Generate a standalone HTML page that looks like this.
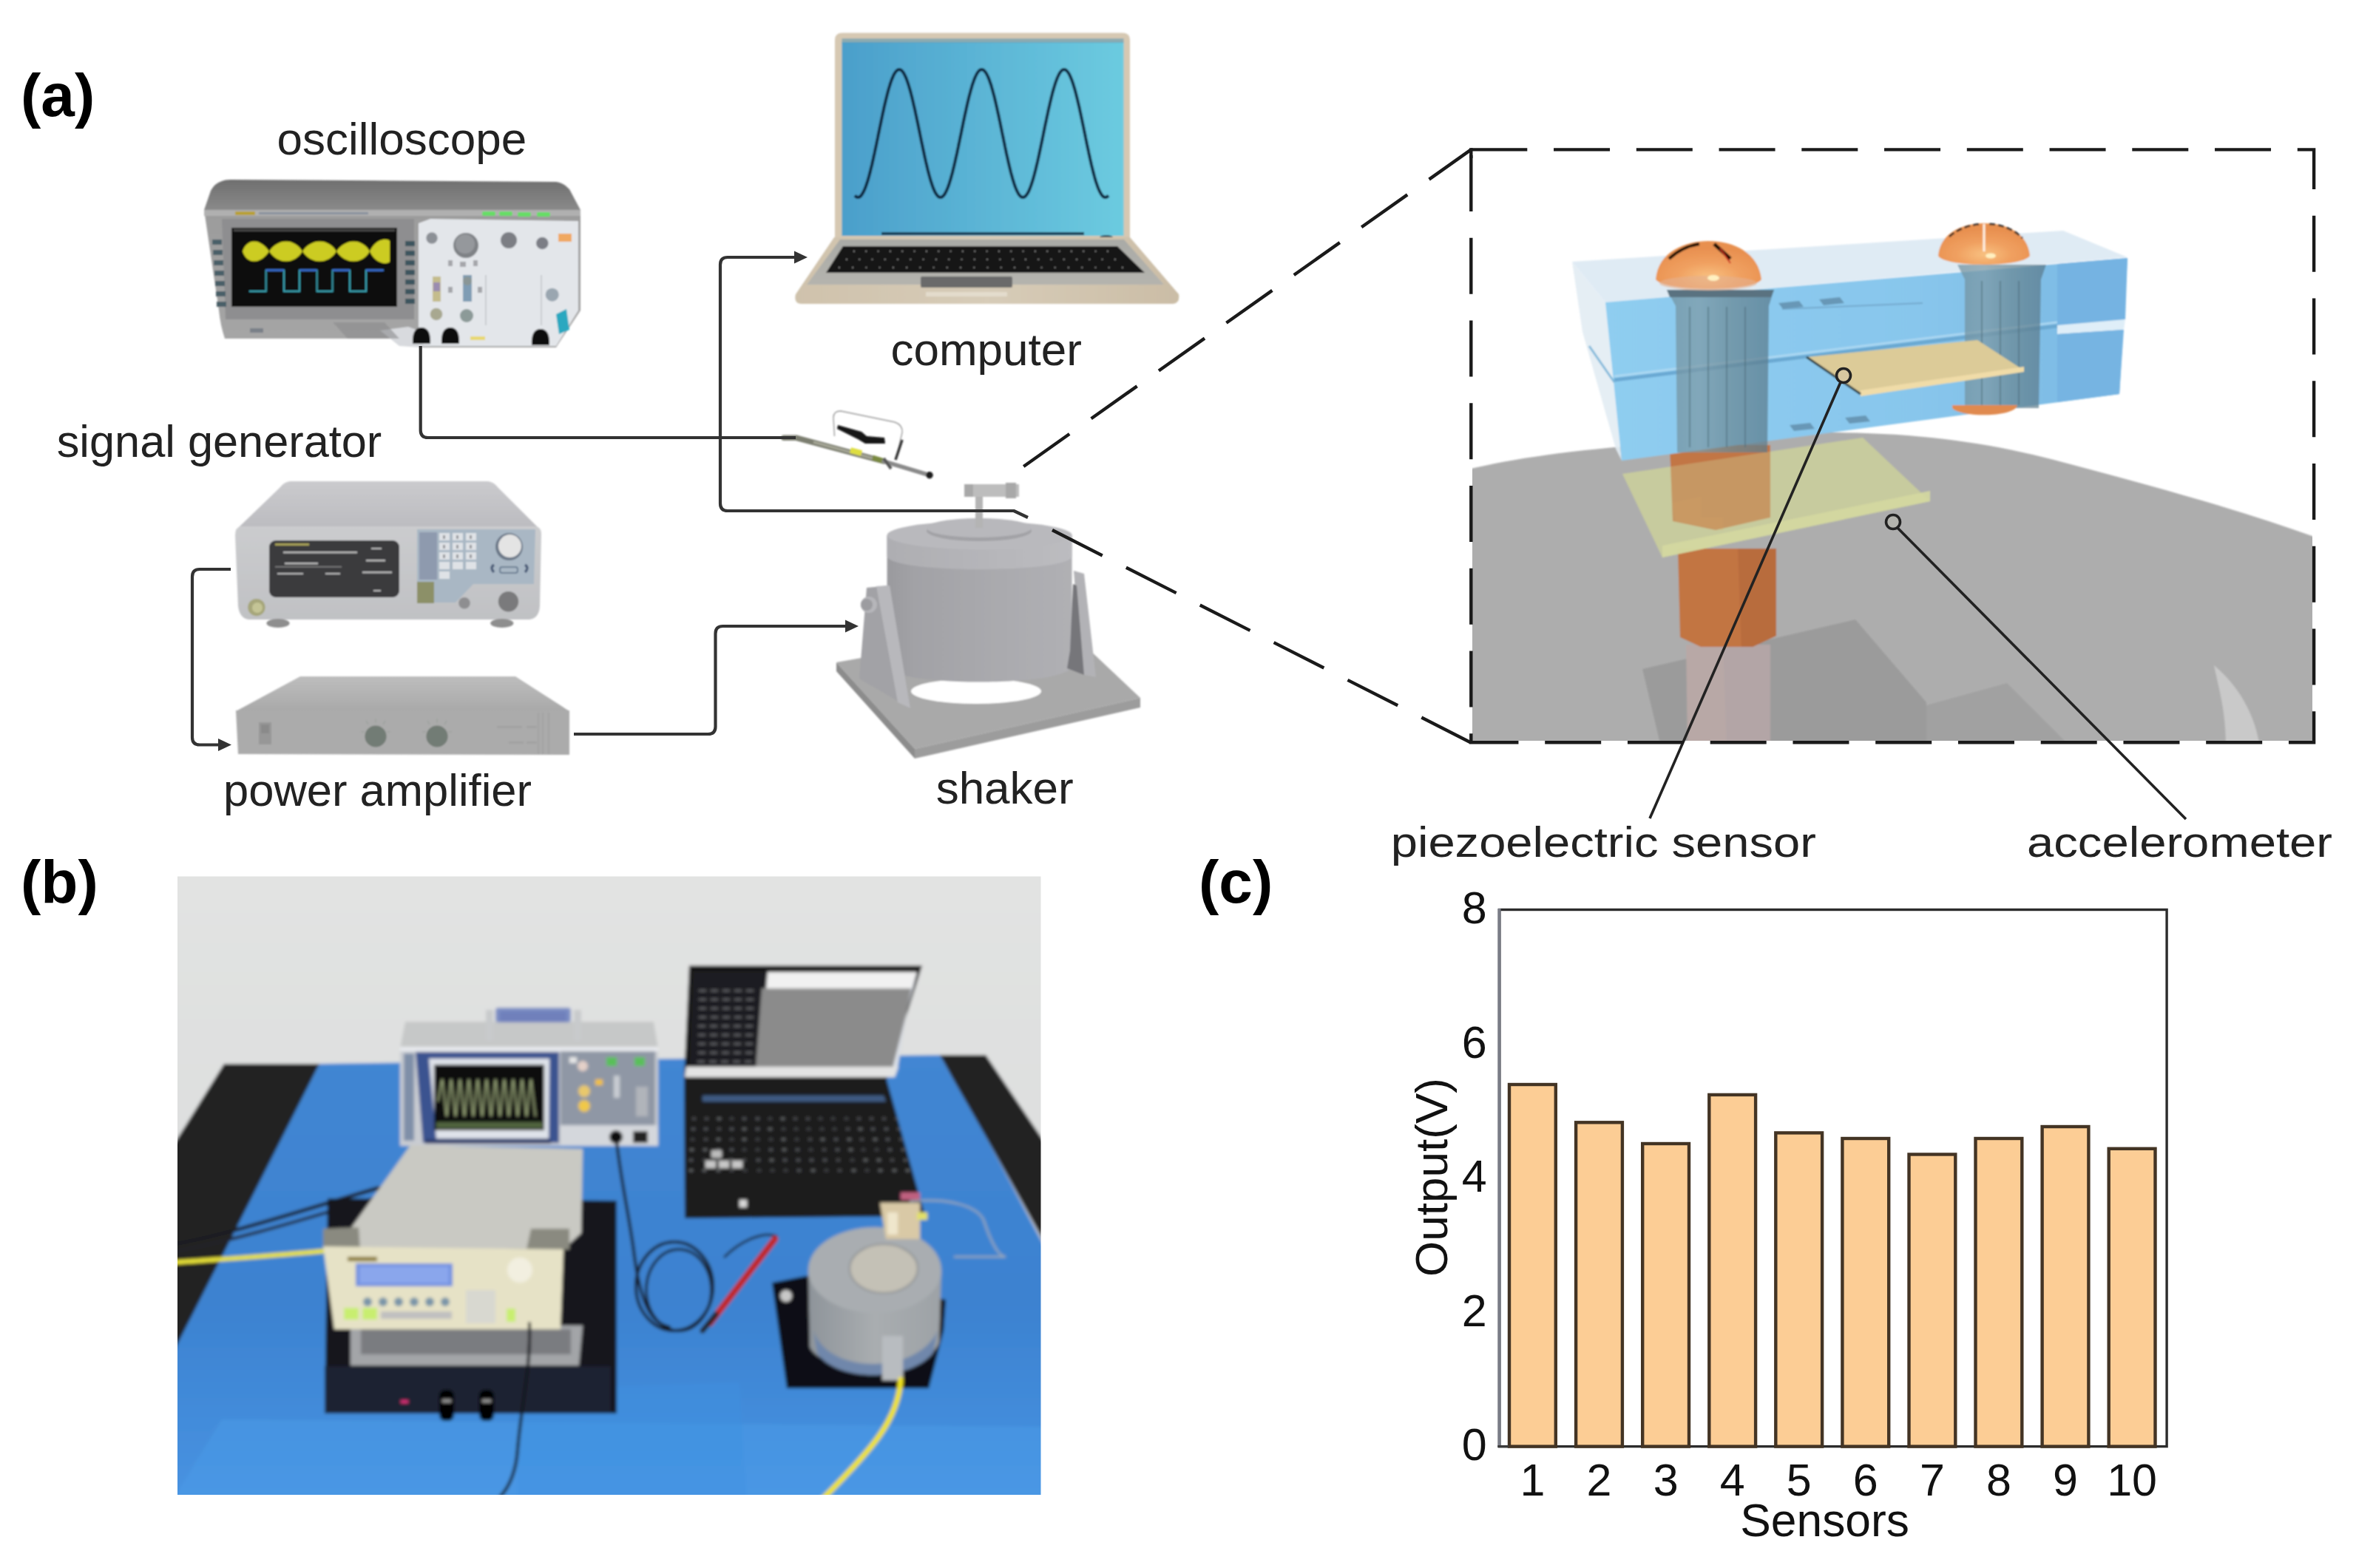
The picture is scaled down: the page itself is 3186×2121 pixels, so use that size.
<!DOCTYPE html>
<html><head><meta charset="utf-8"><title>Experimental setup figure</title>
<style>
html,body{margin:0;padding:0;background:#fff;}
body{width:3186px;height:2121px;overflow:hidden;}
svg{display:block;}
text{font-family:"Liberation Sans",sans-serif;}
</style></head><body>
<svg width="3186" height="2121" viewBox="0 0 3186 2121">
<rect width="3186" height="2121" fill="#fff"/>
<!-- defs -->
<defs>
  <marker id="arr" viewBox="0 0 10 10" refX="9" refY="5" markerWidth="5" markerHeight="5" orient="auto" markerUnits="strokeWidth">
    <path d="M0,0 L10,5 L0,10 z" fill="#333"/>
  </marker>
  <linearGradient id="lapScreen" x1="0" y1="0" x2="1" y2="0">
    <stop offset="0" stop-color="#4b9fcb"/>
    <stop offset="1" stop-color="#6ccbe0"/>
  </linearGradient>
  <filter id="blur1" x="-5%" y="-5%" width="110%" height="110%"><feGaussianBlur stdDeviation="1"/></filter>
  <filter id="blur2" x="-5%" y="-5%" width="110%" height="110%"><feGaussianBlur stdDeviation="2"/></filter>
  <filter id="blur4" x="-10%" y="-10%" width="120%" height="120%"><feGaussianBlur stdDeviation="4"/></filter>
</defs>

<!-- a_labels -->
<g fill="#000" font-weight="bold" font-size="82">
  <text x="28" y="157">(a)</text>
  <text x="28" y="1221">(b)</text>
  <text x="1621" y="1221">(c)</text>
</g>
<g fill="#222" font-size="62" text-anchor="middle">
  <text x="543.3" y="209">oscilloscope</text>
  <text x="1333.7" y="494">computer</text>
  <text x="296.5" y="617.5" font-size="61.3">signal generator</text>
  <text x="510.5" y="1089.5" font-size="61.5">power amplifier</text>
  <text x="1358.7" y="1087">shaker</text>
</g>
<g fill="#222" font-size="57" text-anchor="middle">
  <text x="2168.3" y="1159" textLength="575" lengthAdjust="spacingAndGlyphs">piezoelectric sensor</text>
  <text x="2947.5" y="1159" textLength="413" lengthAdjust="spacingAndGlyphs">accelerometer</text>
</g>

<!-- osc -->
<defs>
  <linearGradient id="oscFront" x1="0" y1="0" x2="0" y2="1">
    <stop offset="0" stop-color="#9c9c9c"/>
    <stop offset="1" stop-color="#a6a6a6"/>
  </linearGradient>
  <linearGradient id="oscTop" x1="0" y1="0" x2="0" y2="1">
    <stop offset="0" stop-color="#6f6f6f"/>
    <stop offset="1" stop-color="#8a8a8a"/>
  </linearGradient>
</defs>
<g filter="url(#blur1)">
  <!-- top face -->
  <path d="M300,245 Q304,243 312,243 L752,246 Q762,247 770,256 L785,284 L276,284 L285,258 Q290,248 300,245 Z" fill="url(#oscTop)"/>
  <!-- front face body -->
  <path d="M276,284 L785,284 L785,420 L752,470 L566,470 L548,458 L304,458 Q298,440 296,420 Z" fill="url(#oscFront)"/>
  <path d="M276,284 L785,284 L785,292 L276,292 Z" fill="#b0b0b0"/>
  <!-- screen bezel -->
  <path d="M300,296 L560,296 L560,432 L305,432 Z" fill="#8e8e90"/>
  <!-- left side button column -->
  <g fill="#4a5f68">
    <rect x="287" y="324" width="13" height="7"/><rect x="288" y="338" width="13" height="7"/><rect x="289" y="352" width="13" height="7"/>
    <rect x="290" y="366" width="13" height="7"/><rect x="291" y="380" width="13" height="7"/><rect x="292" y="394" width="13" height="7"/>
    <rect x="293" y="408" width="13" height="7"/>
  </g>
  <g fill="#3e555e">
    <rect x="548" y="326" width="13" height="7"/><rect x="548" y="339" width="13" height="7"/><rect x="548" y="352" width="13" height="7"/>
    <rect x="548" y="365" width="13" height="7"/><rect x="548" y="378" width="13" height="7"/><rect x="548" y="391" width="13" height="7"/>
    <rect x="548" y="404" width="13" height="7"/>
  </g>
  <!-- label text strip -->
  <rect x="318" y="286" width="27" height="5" fill="#b8a030"/>
  <rect x="350" y="287" width="148" height="3" fill="#7d8898" opacity="0.8"/>
  <!-- black screen -->
  <rect x="313" y="308" width="224" height="107" fill="#0b0b0b"/>
  <!-- yellow modulated waveform -->
  <path d="M328,340 C334,322 352,322 364,340 C376,322 398,322 409,340 C421,322 444,322 455,340 C467,322 490,322 500,340 C508,322 524,322 527,326 L527,354 C524,358 508,358 500,340 C490,358 467,358 455,340 C444,358 421,358 409,340 C398,358 376,358 364,340 C352,358 334,358 328,340 Z" fill="#cccc22"/>
  <!-- cyan square wave -->
  <path d="M337,394 H359.7 V365.5 H384 V394 H405 V365.5 H428.6 V394 H449.6 V365.5 H473 V394 H495 V365.5 H518.7" fill="none" stroke="#3aa0b0" stroke-width="2"/>
  <path d="M359.7,365.5 H384 M405,365.5 H428.6 M449.6,365.5 H473 M495,365.5 H518.7" fill="none" stroke="#3a6ad0" stroke-width="2.5"/>
  <rect x="316" y="310" width="218" height="3" fill="#444"/>
  <!-- right white panel -->
  <path d="M566,302 L582,296 L782,299 L782,420 L752,468 L566,468 Z" fill="#e3e6ea"/>
  <!-- green top buttons -->
  <g fill="#66dd66"><rect x="652" y="286" width="18" height="6" rx="2"/><rect x="675" y="286" width="18" height="6" rx="2"/><rect x="700" y="287" width="18" height="6" rx="2"/><rect x="726" y="287" width="18" height="6" rx="2"/></g>
  <!-- knobs -->
  <circle cx="584" cy="322" r="7.7" fill="#8c9096"/>
  <circle cx="630" cy="332" r="17" fill="#7f8286"/>
  <circle cx="629" cy="330" r="13" fill="#95989c"/>
  <circle cx="688" cy="325" r="11" fill="#7b7e84"/>
  <circle cx="733.3" cy="329" r="8.3" fill="#7b7e86"/>
  <rect x="755" y="316" width="18" height="11" fill="#f0a860"/>
  <g fill="#9aa6b0">
    <circle cx="590" cy="425" r="8.3" fill="#a8a890"/><circle cx="631" cy="427" r="9" fill="#8c9a98"/>
    <circle cx="746.7" cy="398.7" r="9"/>
  </g>
  <rect x="585" y="374" width="11" height="34" fill="#c4bc8c"/>
  <rect x="586" y="382" width="9" height="12" fill="#9a8cb0"/>
  <rect x="626" y="372" width="12" height="36" fill="#7f9cb4"/>
  <circle cx="632" cy="380" r="6" fill="#8a9696"/>
  <g fill="#8c8c90" opacity="0.7"><rect x="606" y="352" width="6" height="8"/><rect x="622" y="354" width="8" height="7"/><rect x="640" y="352" width="6" height="8"/><rect x="606" y="388" width="6" height="8"/><rect x="646" y="388" width="6" height="8"/></g>
  <path d="M657,372 V440 M732,372 V440" stroke="#c0c4c8" stroke-width="1.5"/>
  <path d="M752,425 L766,418 L770,446 L756,452 Z" fill="#29a8c0"/>
  <!-- connectors -->
  <path d="M514,447 L552,442 L580,452 L570,470 L540,468 Z" fill="#d8dade"/>
  <g fill="#111">
    <path d="M558,465 Q557,443 570,443 Q583,443 582,465 Z"/>
    <path d="M597,465 Q596,443 609,443 Q622,443 621,465 Z"/>
    <path d="M719,467 Q718,445 731,445 Q744,445 743,467 Z"/>
  </g>
  <rect x="636" y="455" width="20" height="5" fill="#e8d870"/>
  <rect x="338" y="444" width="18" height="6" fill="#7a8088"/>
  <path d="M450,436 L520,436 L540,458 L470,458 Z" fill="#8a8a8c" opacity="0.6"/>
</g>

<!-- laptop -->
<defs>
<linearGradient id="lapBase" x1="0" y1="0" x2="1" y2="0">
 <stop offset="0" stop-color="#cfc2ac"/><stop offset="0.5" stop-color="#d7ccb8"/><stop offset="1" stop-color="#cbbda6"/>
</linearGradient>
<linearGradient id="lapDeck" x1="0" y1="0" x2="0" y2="1">
 <stop offset="0" stop-color="#a9aaa6"/><stop offset="1" stop-color="#b5b4ae"/>
</linearGradient>
</defs>
<g filter="url(#blur1)">
<path d="M1139,44.5 L1518,44.5 Q1528,44.5 1528,54 L1528,323 L1129,323 L1129,54 Q1129,44.5 1139,44.5 Z" fill="#d6c8b2"/>
<rect x="1138.5" y="57" width="381" height="262" fill="url(#lapScreen)"/><rect x="1138.5" y="52" width="381" height="6" fill="#5a98b0" opacity="0.6"/>
<polyline points="1156.0,264.5 1156.9,265.4 1157.7,266.1 1158.6,266.6 1159.4,266.9 1160.3,267.0 1161.1,266.9 1162.0,266.6 1162.9,266.1 1163.7,265.4 1164.6,264.4 1165.4,263.3 1166.3,262.0 1167.1,260.5 1168.0,258.9 1168.9,257.0 1169.7,255.0 1170.6,252.8 1171.4,250.4 1172.3,247.8 1173.2,245.1 1174.0,242.3 1174.9,239.3 1175.7,236.2 1176.6,232.9 1177.4,229.5 1178.3,226.0 1179.2,222.4 1180.0,218.7 1180.9,214.9 1181.7,211.0 1182.6,207.1 1183.4,203.1 1184.3,199.0 1185.2,194.9 1186.0,190.8 1186.9,186.6 1187.7,182.4 1188.6,178.3 1189.4,174.1 1190.3,169.9 1191.2,165.8 1192.0,161.7 1192.9,157.6 1193.7,153.6 1194.6,149.7 1195.4,145.8 1196.3,142.0 1197.2,138.3 1198.0,134.7 1198.9,131.2 1199.7,127.9 1200.6,124.6 1201.4,121.5 1202.3,118.5 1203.2,115.7 1204.0,113.0 1204.9,110.4 1205.7,108.1 1206.6,105.9 1207.5,103.8 1208.3,102.0 1209.2,100.3 1210.0,98.9 1210.9,97.6 1211.7,96.5 1212.6,95.6 1213.5,94.9 1214.3,94.4 1215.2,94.1 1216.0,94.0 1216.9,94.1 1217.7,94.4 1218.6,94.9 1219.5,95.6 1220.3,96.5 1221.2,97.6 1222.0,98.9 1222.9,100.4 1223.7,102.1 1224.6,104.0 1225.5,106.0 1226.3,108.2 1227.2,110.6 1228.0,113.1 1228.9,115.8 1229.7,118.7 1230.6,121.7 1231.5,124.8 1232.3,128.1 1233.2,131.4 1234.0,134.9 1234.9,138.6 1235.7,142.3 1236.6,146.0 1237.5,149.9 1238.3,153.9 1239.2,157.9 1240.0,161.9 1240.9,166.0 1241.8,170.2 1242.6,174.3 1243.5,178.5 1244.3,182.7 1245.2,186.9 1246.0,191.0 1246.9,195.1 1247.8,199.3 1248.6,203.3 1249.5,207.3 1250.3,211.3 1251.2,215.1 1252.0,218.9 1252.9,222.6 1253.8,226.2 1254.6,229.7 1255.5,233.1 1256.3,236.3 1257.2,239.5 1258.0,242.5 1258.9,245.3 1259.8,248.0 1260.6,250.5 1261.5,252.9 1262.3,255.1 1263.2,257.1 1264.0,259.0 1264.9,260.6 1265.8,262.1 1266.6,263.4 1267.5,264.5 1268.3,265.4 1269.2,266.1 1270.0,266.6 1270.9,266.9 1271.8,267.0 1272.6,266.9 1273.5,266.6 1274.3,266.1 1275.2,265.4 1276.0,264.5 1276.9,263.4 1277.8,262.1 1278.6,260.6 1279.5,258.9 1280.3,257.1 1281.2,255.0 1282.1,252.8 1282.9,250.5 1283.8,247.9 1284.6,245.2 1285.5,242.4 1286.3,239.4 1287.2,236.2 1288.1,233.0 1288.9,229.6 1289.8,226.1 1290.6,222.5 1291.5,218.8 1292.3,215.0 1293.2,211.1 1294.1,207.2 1294.9,203.2 1295.8,199.1 1296.6,195.0 1297.5,190.9 1298.3,186.7 1299.2,182.6 1300.1,178.4 1300.9,174.2 1301.8,170.0 1302.6,165.9 1303.5,161.8 1304.3,157.8 1305.2,153.7 1306.1,149.8 1306.9,145.9 1307.8,142.1 1308.6,138.4 1309.5,134.8 1310.3,131.3 1311.2,128.0 1312.1,124.7 1312.9,121.6 1313.8,118.6 1314.6,115.7 1315.5,113.0 1316.4,110.5 1317.2,108.1 1318.1,105.9 1318.9,103.9 1319.8,102.1 1320.6,100.4 1321.5,98.9 1322.4,97.6 1323.2,96.5 1324.1,95.6 1324.9,94.9 1325.8,94.4 1326.6,94.1 1327.5,94.0 1328.4,94.1 1329.2,94.4 1330.1,94.9 1330.9,95.6 1331.8,96.5 1332.6,97.6 1333.5,98.9 1334.4,100.4 1335.2,102.1 1336.1,103.9 1336.9,105.9 1337.8,108.1 1338.6,110.5 1339.5,113.0 1340.4,115.7 1341.2,118.6 1342.1,121.6 1342.9,124.7 1343.8,128.0 1344.7,131.3 1345.5,134.8 1346.4,138.4 1347.2,142.1 1348.1,145.9 1348.9,149.8 1349.8,153.7 1350.7,157.8 1351.5,161.8 1352.4,165.9 1353.2,170.0 1354.1,174.2 1354.9,178.4 1355.8,182.6 1356.7,186.7 1357.5,190.9 1358.4,195.0 1359.2,199.1 1360.1,203.2 1360.9,207.2 1361.8,211.1 1362.7,215.0 1363.5,218.8 1364.4,222.5 1365.2,226.1 1366.1,229.6 1366.9,233.0 1367.8,236.2 1368.7,239.4 1369.5,242.4 1370.4,245.2 1371.2,247.9 1372.1,250.5 1372.9,252.8 1373.8,255.0 1374.7,257.1 1375.5,258.9 1376.4,260.6 1377.2,262.1 1378.1,263.4 1379.0,264.5 1379.8,265.4 1380.7,266.1 1381.5,266.6 1382.4,266.9 1383.2,267.0 1384.1,266.9 1385.0,266.6 1385.8,266.1 1386.7,265.4 1387.5,264.5 1388.4,263.4 1389.2,262.1 1390.1,260.6 1391.0,259.0 1391.8,257.1 1392.7,255.1 1393.5,252.9 1394.4,250.5 1395.2,248.0 1396.1,245.3 1397.0,242.5 1397.8,239.5 1398.7,236.3 1399.5,233.1 1400.4,229.7 1401.2,226.2 1402.1,222.6 1403.0,218.9 1403.8,215.1 1404.7,211.3 1405.5,207.3 1406.4,203.3 1407.2,199.3 1408.1,195.1 1409.0,191.0 1409.8,186.9 1410.7,182.7 1411.5,178.5 1412.4,174.3 1413.2,170.2 1414.1,166.0 1415.0,161.9 1415.8,157.9 1416.7,153.9 1417.5,149.9 1418.4,146.0 1419.3,142.3 1420.1,138.6 1421.0,134.9 1421.8,131.4 1422.7,128.1 1423.5,124.8 1424.4,121.7 1425.3,118.7 1426.1,115.8 1427.0,113.1 1427.8,110.6 1428.7,108.2 1429.5,106.0 1430.4,104.0 1431.3,102.1 1432.1,100.4 1433.0,98.9 1433.8,97.6 1434.7,96.5 1435.5,95.6 1436.4,94.9 1437.3,94.4 1438.1,94.1 1439.0,94.0 1439.8,94.1 1440.7,94.4 1441.5,94.9 1442.4,95.6 1443.3,96.5 1444.1,97.6 1445.0,98.9 1445.8,100.3 1446.7,102.0 1447.5,103.8 1448.4,105.9 1449.3,108.1 1450.1,110.4 1451.0,113.0 1451.8,115.7 1452.7,118.5 1453.6,121.5 1454.4,124.6 1455.3,127.9 1456.1,131.2 1457.0,134.7 1457.8,138.3 1458.7,142.0 1459.6,145.8 1460.4,149.7 1461.3,153.6 1462.1,157.6 1463.0,161.7 1463.8,165.8 1464.7,169.9 1465.6,174.1 1466.4,178.3 1467.3,182.4 1468.1,186.6 1469.0,190.8 1469.8,194.9 1470.7,199.0 1471.6,203.1 1472.4,207.1 1473.3,211.0 1474.1,214.9 1475.0,218.7 1475.8,222.4 1476.7,226.0 1477.6,229.5 1478.4,232.9 1479.3,236.2 1480.1,239.3 1481.0,242.3 1481.8,245.1 1482.7,247.8 1483.6,250.4 1484.4,252.8 1485.3,255.0 1486.1,257.0 1487.0,258.9 1487.9,260.5 1488.7,262.0 1489.6,263.3 1490.4,264.4 1491.3,265.4 1492.1,266.1 1493.0,266.6 1493.9,266.9 1494.7,267.0 1495.6,266.9 1496.4,266.6 1497.3,266.1 1498.1,265.4 1499.0,264.5" fill="none" stroke="#0d2740" stroke-width="4.2"/>
<rect x="1192" y="314" width="274" height="4" fill="#1f3c55"/>
<ellipse cx="1496" cy="321" rx="9" ry="3" fill="#3a4a55"/>
<path d="M1128,321 L1528,321 L1594,398 Q1596,410 1586,411 L1083,411 Q1073,410 1076,398 Z" fill="url(#lapBase)"/>
<path d="M1136,324 L1520,324 L1574,385 L1091,385 Z" fill="url(#lapDeck)"/>
<path d="M1140,333 L1511,333 L1548,369 L1117,369 Z" fill="#121212"/>
<rect x="1154.0" y="339" width="1.8" height="1.8" fill="#8a8a8a"/><rect x="1170.3" y="339" width="1.8" height="1.8" fill="#8a8a8a"/><rect x="1186.7" y="339" width="1.8" height="1.8" fill="#8a8a8a"/><rect x="1203.0" y="339" width="1.8" height="1.8" fill="#8a8a8a"/><rect x="1219.3" y="339" width="1.8" height="1.8" fill="#8a8a8a"/><rect x="1235.7" y="339" width="1.8" height="1.8" fill="#8a8a8a"/><rect x="1252.0" y="339" width="1.8" height="1.8" fill="#8a8a8a"/><rect x="1268.3" y="339" width="1.8" height="1.8" fill="#8a8a8a"/><rect x="1284.7" y="339" width="1.8" height="1.8" fill="#8a8a8a"/><rect x="1301.0" y="339" width="1.8" height="1.8" fill="#8a8a8a"/><rect x="1317.3" y="339" width="1.8" height="1.8" fill="#8a8a8a"/><rect x="1333.7" y="339" width="1.8" height="1.8" fill="#8a8a8a"/><rect x="1350.0" y="339" width="1.8" height="1.8" fill="#8a8a8a"/><rect x="1366.3" y="339" width="1.8" height="1.8" fill="#8a8a8a"/><rect x="1382.7" y="339" width="1.8" height="1.8" fill="#8a8a8a"/><rect x="1399.0" y="339" width="1.8" height="1.8" fill="#8a8a8a"/><rect x="1415.3" y="339" width="1.8" height="1.8" fill="#8a8a8a"/><rect x="1431.7" y="339" width="1.8" height="1.8" fill="#8a8a8a"/><rect x="1448.0" y="339" width="1.8" height="1.8" fill="#8a8a8a"/><rect x="1464.3" y="339" width="1.8" height="1.8" fill="#8a8a8a"/><rect x="1480.7" y="339" width="1.8" height="1.8" fill="#8a8a8a"/><rect x="1497.0" y="339" width="1.8" height="1.8" fill="#8a8a8a"/><rect x="1144.0" y="350" width="1.8" height="1.8" fill="#8a8a8a"/><rect x="1161.3" y="350" width="1.8" height="1.8" fill="#8a8a8a"/><rect x="1178.6" y="350" width="1.8" height="1.8" fill="#8a8a8a"/><rect x="1195.9" y="350" width="1.8" height="1.8" fill="#8a8a8a"/><rect x="1213.1" y="350" width="1.8" height="1.8" fill="#8a8a8a"/><rect x="1230.4" y="350" width="1.8" height="1.8" fill="#8a8a8a"/><rect x="1247.7" y="350" width="1.8" height="1.8" fill="#8a8a8a"/><rect x="1265.0" y="350" width="1.8" height="1.8" fill="#8a8a8a"/><rect x="1282.3" y="350" width="1.8" height="1.8" fill="#8a8a8a"/><rect x="1299.6" y="350" width="1.8" height="1.8" fill="#8a8a8a"/><rect x="1316.9" y="350" width="1.8" height="1.8" fill="#8a8a8a"/><rect x="1334.1" y="350" width="1.8" height="1.8" fill="#8a8a8a"/><rect x="1351.4" y="350" width="1.8" height="1.8" fill="#8a8a8a"/><rect x="1368.7" y="350" width="1.8" height="1.8" fill="#8a8a8a"/><rect x="1386.0" y="350" width="1.8" height="1.8" fill="#8a8a8a"/><rect x="1403.3" y="350" width="1.8" height="1.8" fill="#8a8a8a"/><rect x="1420.6" y="350" width="1.8" height="1.8" fill="#8a8a8a"/><rect x="1437.9" y="350" width="1.8" height="1.8" fill="#8a8a8a"/><rect x="1455.1" y="350" width="1.8" height="1.8" fill="#8a8a8a"/><rect x="1472.4" y="350" width="1.8" height="1.8" fill="#8a8a8a"/><rect x="1489.7" y="350" width="1.8" height="1.8" fill="#8a8a8a"/><rect x="1507.0" y="350" width="1.8" height="1.8" fill="#8a8a8a"/><rect x="1134.0" y="361" width="1.8" height="1.8" fill="#8a8a8a"/><rect x="1152.2" y="361" width="1.8" height="1.8" fill="#8a8a8a"/><rect x="1170.5" y="361" width="1.8" height="1.8" fill="#8a8a8a"/><rect x="1188.7" y="361" width="1.8" height="1.8" fill="#8a8a8a"/><rect x="1207.0" y="361" width="1.8" height="1.8" fill="#8a8a8a"/><rect x="1225.2" y="361" width="1.8" height="1.8" fill="#8a8a8a"/><rect x="1243.4" y="361" width="1.8" height="1.8" fill="#8a8a8a"/><rect x="1261.7" y="361" width="1.8" height="1.8" fill="#8a8a8a"/><rect x="1279.9" y="361" width="1.8" height="1.8" fill="#8a8a8a"/><rect x="1298.1" y="361" width="1.8" height="1.8" fill="#8a8a8a"/><rect x="1316.4" y="361" width="1.8" height="1.8" fill="#8a8a8a"/><rect x="1334.6" y="361" width="1.8" height="1.8" fill="#8a8a8a"/><rect x="1352.9" y="361" width="1.8" height="1.8" fill="#8a8a8a"/><rect x="1371.1" y="361" width="1.8" height="1.8" fill="#8a8a8a"/><rect x="1389.3" y="361" width="1.8" height="1.8" fill="#8a8a8a"/><rect x="1407.6" y="361" width="1.8" height="1.8" fill="#8a8a8a"/><rect x="1425.8" y="361" width="1.8" height="1.8" fill="#8a8a8a"/><rect x="1444.0" y="361" width="1.8" height="1.8" fill="#8a8a8a"/><rect x="1462.3" y="361" width="1.8" height="1.8" fill="#8a8a8a"/><rect x="1480.5" y="361" width="1.8" height="1.8" fill="#8a8a8a"/><rect x="1498.8" y="361" width="1.8" height="1.8" fill="#8a8a8a"/><rect x="1517.0" y="361" width="1.8" height="1.8" fill="#8a8a8a"/>
<rect x="1245" y="374" width="124" height="15" rx="2" fill="#6b6b6b"/>
<rect x="1252" y="395" width="110" height="6" fill="#e8e2d6" opacity="0.7"/>
</g>
<!-- siggen -->
<defs>
  <linearGradient id="sgTop" x1="0" y1="0" x2="0" y2="1">
    <stop offset="0" stop-color="#cacacd"/><stop offset="1" stop-color="#bcbcc0"/>
  </linearGradient>
  <linearGradient id="sgFront" x1="0" y1="0" x2="0" y2="1">
    <stop offset="0" stop-color="#cbccce"/><stop offset="1" stop-color="#c0c1c4"/>
  </linearGradient>
  <linearGradient id="ampTop" x1="0" y1="0" x2="0" y2="1">
    <stop offset="0" stop-color="#bdbdbd"/><stop offset="1" stop-color="#a9a9a9"/>
  </linearGradient>
</defs>
<g filter="url(#blur1)">
  <path d="M392,651 L660,651 Q668,652 674,660 L728,714 L322,714 L378,660 Q384,652 392,651 Z" fill="url(#sgTop)"/>
  <path d="M326,712 L724,712 Q732,713 732,722 L730,820 Q729,836 716,838 L336,838 Q324,836 322,820 L318,724 Q318,713 326,712 Z" fill="url(#sgFront)"/>
  <rect x="364" y="731" width="176" height="77" rx="9" fill="#3b3b3d"/>
  <g fill="#dcdcdc" opacity="0.75">
    <rect x="372" y="735" width="46" height="3" fill="#c8c060"/>
    <rect x="383" y="746" width="100" height="2.5"/><rect x="502" y="741" width="14" height="2"/>
    <rect x="385" y="761" width="45" height="2.5"/><rect x="495" y="757" width="26" height="2.5"/>
    <rect x="372" y="766" width="90" height="1.5" opacity="0.6"/>
    <rect x="375" y="775" width="35" height="2"/><rect x="440" y="775" width="20" height="2"/><rect x="490" y="773" width="40" height="2.5"/>
    <rect x="505" y="798" width="10" height="2"/>
  </g>
  <path d="M564,716 L724,716 L722,790 L640,790 L616,815 L564,815 Z" fill="#a9b7c4"/>
  <rect x="567" y="720" width="24" height="64" fill="#8e9aae"/>
  <g fill="#dfe2e6">
    <rect x="594" y="721" width="14" height="10"/><rect x="612" y="721" width="14" height="10"/><rect x="630" y="721" width="14" height="10"/>
    <rect x="594" y="734" width="14" height="10"/><rect x="612" y="734" width="14" height="10"/><rect x="630" y="734" width="14" height="10"/>
    <rect x="594" y="747" width="14" height="10"/><rect x="612" y="747" width="14" height="10"/><rect x="630" y="747" width="14" height="10"/>
    <rect x="594" y="760" width="14" height="10"/><rect x="612" y="760" width="14" height="10"/><rect x="630" y="760" width="14" height="10"/>
    <rect x="594" y="773" width="14" height="10"/>
  </g>
  <g fill="#6a6a6e" opacity="0.6">
    <rect x="599" y="724" width="3" height="5"/><rect x="617" y="724" width="3" height="5"/><rect x="635" y="724" width="3" height="5"/>
    <rect x="599" y="737" width="3" height="5"/><rect x="617" y="737" width="3" height="5"/><rect x="635" y="737" width="3" height="5"/>
    <rect x="599" y="750" width="3" height="5"/><rect x="617" y="750" width="3" height="5"/><rect x="635" y="750" width="3" height="5"/>
  </g>
  <rect x="564" y="787" width="23" height="29" fill="#8c9068"/>
  <circle cx="688.5" cy="739.6" r="18.5" fill="#6c7888"/>
  <circle cx="689.5" cy="738.6" r="15.5" fill="#e4e4e4"/>
  <path d="M668,774 Q662,768 668,764 M710,764 Q716,768 710,774" fill="none" stroke="#4c5c78" stroke-width="3.5"/>
  <rect x="676" y="767" width="24" height="8" rx="3" fill="none" stroke="#6b7d92" stroke-width="2"/>
  <circle cx="628" cy="815.7" r="7.8" fill="#8e8e90"/>
  <circle cx="687.5" cy="813.8" r="13.7" fill="#7a7a7c"/>
  <circle cx="346.9" cy="821.6" r="11.7" fill="#a6a67a"/>
  <circle cx="348" cy="822" r="7" fill="#c4c496"/>
  <ellipse cx="376" cy="843" rx="15.6" ry="6" fill="#8e8e8e"/>
  <ellipse cx="678.8" cy="843" rx="15.6" ry="6" fill="#8e8e8e"/>
</g>

<!-- amp -->
<g filter="url(#blur1)">
  <path d="M406,915 L697,915 L770,962 L319,962 Z" fill="url(#ampTop)"/>
  <path d="M319,961 L770,961 L770,1021 L322,1020 Z" fill="#ababab"/>
  <rect x="350" y="977" width="17" height="30" fill="#979797"/>
  <rect x="353" y="980" width="11" height="12" fill="#8a8a8a"/>
  <g stroke="#9aa09c" stroke-width="1.5" opacity="0.8">
    <path d="M495,975 l3,5 M508,972 v6 M521,975 l-3,5 M488,990 h5 M523,990 h5"/>
    <path d="M578,975 l3,5 M591,972 v6 M604,975 l-3,5 M571,990 h5 M606,990 h5"/>
  </g>
  <circle cx="508" cy="996" r="14.6" fill="#727b75"/>
  <circle cx="591" cy="996" r="14.6" fill="#727b75"/>
  <g fill="#a0a0a0" opacity="0.8"><rect x="672" y="982" width="34" height="3"/><rect x="712" y="982" width="14" height="3"/><rect x="688" y="1003" width="20" height="3"/><rect x="712" y="1003" width="14" height="3"/></g>
  <g stroke="#9c9c9c" stroke-width="1.2"><path d="M728,964 V1020 M734,964 V1020 M742,964 V1020"/></g>
</g>

<!-- shaker -->
<defs>
  <linearGradient id="shCyl" x1="0" y1="0" x2="1" y2="0">
    <stop offset="0" stop-color="#9a9a9e"/>
    <stop offset="0.15" stop-color="#a2a2a6"/>
    <stop offset="0.6" stop-color="#aaaaae"/>
    <stop offset="1" stop-color="#b0b0b4"/>
  </linearGradient>
  <linearGradient id="shBand" x1="0" y1="0" x2="1" y2="0">
    <stop offset="0" stop-color="#aeaeb2"/>
    <stop offset="1" stop-color="#bcbcc0"/>
  </linearGradient>
</defs>
<g filter="url(#blur1)">
  <!-- base plate -->
  <path d="M1131,896 L1434,842 L1542,944 L1237,1013 Z" fill="#a9a9a9"/>
  <path d="M1131,896 L1237,1013 L1237,1026 L1131,908 Z" fill="#8c8c8c"/>
  <path d="M1237,1013 L1542,944 L1542,957 L1237,1026 Z" fill="#9c9c9c"/>
  <!-- white hole ellipse under cylinder -->
  <ellipse cx="1320" cy="935" rx="88" ry="17" fill="#ffffff"/>
  <!-- cylinder body -->
  <path d="M1199.6,724 L1449.6,724 L1449.6,900 C1449.6,930 1199.6,930 1199.6,900 Z" fill="url(#shCyl)"/>
  <path d="M1199.6,724 L1449.6,724 L1449.6,752 C1449.6,776 1199.6,776 1199.6,752 Z" fill="url(#shBand)"/>
  <!-- top ellipse -->
  <ellipse cx="1324.6" cy="724" rx="125" ry="19" fill="#b9b9bd"/>
  <!-- inner disc -->
  <ellipse cx="1324" cy="718" rx="71" ry="14" fill="#a2a2a6"/>
  <ellipse cx="1324" cy="714" rx="71" ry="13" fill="#b8b8bc"/>
  <!-- rod -->
  <rect x="1319" y="662" width="10" height="52" fill="#b4b4b4"/>
  <!-- top fixture -->
  <path d="M1304,655 L1378,655 L1378,672 L1304,672 Z" fill="#bdbdbd"/>
  <rect x="1304" y="655" width="12" height="17" fill="#a8a8a8"/>
  <rect x="1360" y="653" width="14" height="21" fill="#a8a8a8"/>
  <!-- right bracket -->
  <path d="M1452,772 L1466,776 L1482,916 L1462,912 Z" fill="#b2b2b6"/>
  <path d="M1451,790 L1456,792 L1466,913 L1443,904 L1447,880 Z" fill="#76767a"/>
  <!-- left bracket -->
  <path d="M1172,795 L1203,792 L1231,958 L1162,918 Z" fill="#a2a2a6"/>
  <path d="M1185,793 L1203,792 L1231,958 L1214,950 Z" fill="#b8b8bc"/>
  <circle cx="1175" cy="818" r="11" fill="#b6b6ba"/>
  <circle cx="1172" cy="818" r="8" fill="#9c9ca0"/>
</g>

<!-- probe -->
<g filter="url(#blur1)">
  <path d="M1060,592.3 L1077,592.3 L1195,624" fill="none" stroke="#7c7e70" stroke-width="7.5" stroke-linecap="round"/>
  <path d="M1100,598 L1195,624" fill="none" stroke="#a7a898" stroke-width="3"/>
  <path d="M1150,609 L1165,613" stroke="#dede40" stroke-width="8"/>
  <path d="M1180,619 L1196,624" stroke="#7a8a40" stroke-width="7"/>
  <path d="M1195,624 L1257,642.7" stroke="#8a8a8a" stroke-width="5.6" stroke-linecap="round"/>
  <path d="M1195,620 L1205,634" stroke="#555" stroke-width="4"/>
  <circle cx="1257" cy="642.7" r="4.7" fill="#1a1a1a"/>
  <path d="M1128.5,590 L1127,565 Q1127,556 1137,556 L1210,571 Q1221,575 1220,585 L1212,620" fill="none" stroke="#9a9a9a" stroke-width="1.4"/>
  <path d="M1220,595 L1211,622" stroke="#333" stroke-width="3.5"/>
  <path d="M1133,575 L1165,584 L1172,590 L1196,592 L1197,600 L1170,600 L1160,594 L1132,580 Z" fill="#161616"/>
</g>

<!-- lines -->
<g fill="none" stroke="#333" stroke-width="4.2" stroke-linejoin="round">
  <!-- oscilloscope to probe -->
  <path d="M568.7,468 V582 Q568.7,592 578.7,592 H1076"/>
  <!-- computer cable -->
  <path d="M1390,700 L1371,691 H984 Q974,691 974,681 V358 Q974,348 984,348 H1080"/>
  <!-- power amp to shaker -->
  <path d="M776,993 H957.5 Q967.5,993 967.5,983 V857 Q967.5,847 977.5,847 H1150"/>
  <!-- siggen to amp -->
  <path d="M312,770 H270 Q260,770 260,780 V997.5 Q260,1007.5 270,1007.5 H302"/>
</g>
<g fill="#333">
  <path d="M1092,348 L1074,339.5 L1074,356.5 z"/>
  <path d="M1161,847 L1143,838.5 L1143,855.5 z"/>
  <path d="M313,1007.5 L295,999 L295,1016 z"/>
</g>
<g stroke="#1a1a1a" stroke-width="4.4" fill="none" stroke-dasharray="76 36">
  <line x1="1384.2" y1="631" x2="1989.3" y2="202.4"/>
  <line x1="1423" y1="717" x2="1988.5" y2="1004.2"/>
</g>

<!-- zoom -->
<defs>
<clipPath id="zoomClip"><rect x="1991" y="204" width="1136" height="798"/></clipPath>
<linearGradient id="blueFront" x1="0" y1="0" x2="1" y2="0">
 <stop offset="0" stop-color="#8fcdf0"/><stop offset="0.6" stop-color="#88c6ec"/><stop offset="1" stop-color="#7ab8e2"/>
</linearGradient>
<linearGradient id="colG" x1="0" y1="0" x2="1" y2="0">
 <stop offset="0" stop-color="#6f8f9c"/><stop offset="0.3" stop-color="#7d9aa6"/><stop offset="0.6" stop-color="#6a8894"/><stop offset="1" stop-color="#58788a"/>
</linearGradient>
<radialGradient id="headG" cx="0.5" cy="0.75" r="0.6">
 <stop offset="0" stop-color="#f8c080"/><stop offset="0.5" stop-color="#f0a060"/><stop offset="1" stop-color="#e89050"/>
</radialGradient>
</defs>
<g clip-path="url(#zoomClip)"><g filter="url(#blur1)">
<path d="M1985,635 C2080,612 2200,600 2472,585 C2600,585 2700,600 2800,628 C2920,660 3030,690 3135,728 V1010 H1985 Z" fill="#adadad"/>
<path d="M2221,905 L2509,838 L2605,950 L2605,1010 L2246,1010 Z" fill="#9b9b9b"/>
<path d="M2605,954 L2714,924 L2800,1010 L2605,1010 Z" fill="#a1a1a1"/>
<path d="M2994,900 C3030,930 3050,970 3056,1010 L3010,1010 C3010,960 3000,930 2994,900 Z" fill="#c9c9c9"/>
<path d="M2280,872 L2394,872 L2394,1010 L2282,1010 Z" fill="#b8a8a6"/>
<path d="M2330,872 L2394,872 L2394,1010 L2335,1010 Z" fill="#b0a4a6" opacity="0.7"/>
<path d="M2269,742 L2402,742 L2402,860 L2370,875 L2300,875 L2272,862 Z" fill="#c27443"/>
<path d="M2350,742 L2402,742 L2402,860 L2370,875 L2355,875 Z" fill="#b86c3e"/>
<path d="M2258,602 L2394,602 L2394,700 L2320,717 L2262,705 Z" fill="#c27646"/>
<path d="M2262,680 L2300,672 L2300,700 L2330,700 L2330,717 L2266,705 Z" fill="#dc8a4a"/>
<path d="M2194,641 L2519,592 L2610,678 L2248,754 Z" fill="#cdd29a" opacity="0.8"/>
<path d="M2248,738 L2610,664 L2610,678 L2248,754 Z" fill="#d4d8a0" opacity="0.9"/>
<path d="M2258,602 L2394,602 L2394,700 L2320,717 L2262,705 Z" fill="#c27646" opacity="0.55"/>
<path d="M2126,354 L2171,409 L2193,623 L2185,607 L2140,449 Z" fill="#e2ecf3" opacity="0.9"/>
<path d="M2126,354 L2790,312 L2877,348 L2171,409 Z" fill="#dbe9f3" opacity="0.9"/>
<path d="M2171,409 L2877,349 L2866,533 L2193,623 Z" fill="url(#blueFront)"/>
<path d="M2782,357 L2877,349 L2874,432 L2782,440 Z" fill="#74b3e2"/>
<path d="M2782,440 L2874,432 L2872,446 L2782,452 Z" fill="#dfeef8"/>
<path d="M2782,452 L2872,446 L2866,533 L2782,544 Z" fill="#76b4e2"/>
<path d="M2183,514 L2782,441" stroke="#68a6d0" stroke-width="5" opacity="0.9"/>
<path d="M2183,509 L2782,436" stroke="#b4dbf3" stroke-width="3" opacity="0.8"/>
<path d="M2149,468 L2183,517" stroke="#78b4d8" stroke-width="3" opacity="0.9"/>
<path d="M2405,410 l28,-3 l6,8 l-28,3 Z" fill="#5f8ba8" opacity="0.8"/>
<path d="M2460,405 l28,-3 l6,8 l-28,3 Z" fill="#5f8ba8" opacity="0.8"/>
<path d="M2420,575 l28,-3 l6,8 l-28,3 Z" fill="#5f8ba8" opacity="0.8"/>
<path d="M2495,565 l28,-3 l6,8 l-28,3 Z" fill="#5f8ba8" opacity="0.8"/>
<path d="M2410,418 L2600,410" stroke="#6a9cc0" stroke-width="2" opacity="0.7"/>
<path d="M2254,392 L2399,392 L2392,414 L2390,612 L2268,612 L2266,414 Z" fill="url(#colG)" opacity="0.72"/>
<g stroke="#4e6e7c" stroke-width="2" opacity="0.6"><path d="M2285,415 V605 M2310,415 V605 M2335,415 V605 M2360,415 V605"/></g>
<path d="M2254,392 L2399,392 L2395,402 L2258,402 Z" fill="#5a7280"/>
<path d="M2647,358 L2767,358 L2760,378 L2757,552 L2657,552 L2657,378 Z" fill="url(#colG)" opacity="0.72"/>
<g stroke="#4e6e7c" stroke-width="2" opacity="0.6"><path d="M2680,380 V548 M2705,380 V548 M2730,380 V548"/></g>
<path d="M2640,548 L2728,548 C2725,565 2650,565 2640,552 Z" fill="#e08a50"/>
<path d="M2239,378 C2242,340 2280,326 2310,326 C2345,326 2378,342 2382,378 C2372,395 2250,395 2239,378 Z" fill="url(#headG)"/>
<ellipse cx="2310" cy="383" rx="66" ry="10" fill="#e4b090" opacity="0.6"/>
<path d="M2257,350 C2270,338 2285,332 2298,330" stroke="#1a0a05" stroke-width="4" fill="none"/>
<path d="M2318,330 L2340,350" stroke="#1a0a05" stroke-width="5" fill="none"/>
<path d="M2326,336 L2340,356" stroke="#c83020" stroke-width="2" fill="none"/>
<ellipse cx="2317" cy="376" rx="8" ry="4" fill="#fff0c0"/>
<path d="M2621,346 C2624,314 2655,302 2683,302 C2712,302 2742,314 2745,346 C2735,362 2630,362 2621,346 Z" fill="url(#headG)"/>
<path d="M2636,320 C2650,308 2665,304 2680,303" stroke="#222" stroke-width="2.5" fill="none" stroke-dasharray="8 4"/>
<path d="M2690,303 C2710,304 2725,312 2735,322" stroke="#222" stroke-width="2.5" fill="none" stroke-dasharray="8 4"/>
<path d="M2683,303 L2683,340" stroke="#fff4e8" stroke-width="3"/>
<ellipse cx="2692" cy="346" rx="7" ry="3.5" fill="#fff0c0"/>
<path d="M2443,483 L2674,460 L2737,501 L2516,533 Z" fill="#dccb98"/>
<path d="M2516,528 L2737,496 L2737,503 L2516,536 Z" fill="#f0dca8"/>
<path d="M2443,483 L2516,533" stroke="#2a3a40" stroke-width="3"/>
</g></g>
<g stroke="#222" stroke-width="3.6" fill="none">
<line x1="2489" y1="517" x2="2231" y2="1107"/>
<line x1="2566" y1="714" x2="2956" y2="1108"/>
<circle cx="2493" cy="508" r="9.5" fill="#d8c8a0"/>
<circle cx="2560" cy="706" r="9.5" fill="#b4b4ae"/>
</g>
<path d="M1989.3,202.4 H3129.1 V1004.2 H1989.3 Z" fill="none" stroke="#1a1a1a" stroke-width="4.4" stroke-dasharray="76 35.75"/>
<line x1="1989.3" y1="200.2" x2="1989.3" y2="214" stroke="#1a1a1a" stroke-width="4.4"/>
<!-- photo -->
<defs>
  <clipPath id="photoClip"><rect x="240" y="1185.5" width="1167.5" height="836.5"/></clipPath>
  <linearGradient id="wallG" x1="0" y1="0" x2="0" y2="1">
    <stop offset="0" stop-color="#e2e3e2"/>
    <stop offset="1" stop-color="#d8dadb"/>
  </linearGradient>
  <linearGradient id="clothG" x1="0" y1="0" x2="0" y2="1">
    <stop offset="0" stop-color="#4286d3"/>
    <stop offset="0.55" stop-color="#3c82d0"/>
    <stop offset="1" stop-color="#4893e2"/>
  </linearGradient>
  <linearGradient id="cylG" x1="0" y1="0" x2="1" y2="0">
    <stop offset="0" stop-color="#8e949a"/>
    <stop offset="0.5" stop-color="#a9adb0"/>
    <stop offset="1" stop-color="#9da2a6"/>
  </linearGradient>
</defs>
<g clip-path="url(#photoClip)">
  <g filter="url(#blur2)">
  <rect x="230" y="1175" width="1190" height="860" fill="url(#wallG)"/>
  <!-- blue cloth -->
  <path d="M432,1439 L1271,1427 L1293,1467 L1330,1532 L1420,1700 L1420,2035 L230,2035 L230,1823 Z" fill="url(#clothG)"/>
  <!-- cloth lighter folds -->
  <path d="M300,1920 L1420,1930 L1420,2035 L230,2035 Z" fill="#4a9be8" opacity="0.5"/>
  <path d="M700,1880 L1000,1870 L1010,2035 L700,2035 Z" fill="#3f92e2" opacity="0.4"/>
  <!-- black table left -->
  <path d="M303,1439 L432,1439 L230,1838 L230,1556 Z" fill="#232323"/>
  <!-- black table right -->
  <path d="M1271,1427 L1333,1427 L1420,1556 L1420,1700 L1408,1673 L1330,1532 L1293,1467 Z" fill="#202024"/>
  <!-- cables on left -->
  <g fill="none" stroke-linecap="round">
    <path d="M230,1684 C320,1668 430,1630 512,1607" stroke="#1a1d22" stroke-width="5"/>
    <path d="M230,1694 C330,1676 440,1640 520,1617" stroke="#20242a" stroke-width="4"/>
    <path d="M230,1708 C320,1702 400,1696 440,1692" stroke="#e9e237" stroke-width="6"/>
  </g>
  <!-- ===== oscilloscope ===== -->
  <path d="M548,1382 L884,1382 L890,1418 L541,1418 Z" fill="#c6c8c8"/>
  <rect x="657" y="1366" width="10" height="42" fill="#c8cacc"/><rect x="776" y="1366" width="10" height="42" fill="#c8cacc"/>
  <rect x="670" y="1363" width="102" height="20" rx="4" fill="#7c8ec4"/>
  <rect x="676" y="1368" width="90" height="14" fill="#6f80bb"/>
  <rect x="541" y="1416" width="349" height="134" fill="#c9ccd2"/>
  <rect x="541" y="1416" width="349" height="6" fill="#e8eaee"/>
  <path d="M562,1423 L756,1423 L756,1546 L572,1546 Z" fill="#3a5290"/>
  <path d="M580,1432 L743,1432 L742,1540 L590,1540 Z" fill="#dfe3ea"/>
  <rect x="587" y="1440" width="149" height="89" fill="#0d0f0c"/>
  <g stroke="#c9d9a0" stroke-width="1.6" fill="none" opacity="0.85">
    <path d="M592,1490 l6,-30 l6,50 l6,-50 l6,50 l6,-50 l6,50 l6,-50 l6,50 l6,-50 l6,50 l6,-50 l6,50 l6,-50 l6,50 l6,-50 l6,50 l6,-50 l6,50 l6,-50 l6,50 l6,-50 l6,50"/>
  </g>
  <rect x="590" y="1518" width="144" height="8" fill="#6f8a55" opacity="0.7"/>
  <rect x="546" y="1425" width="14" height="118" fill="#7f8fa8"/>
  <g fill="#2e3e6a"><rect x="575" y="1541" width="170" height="6"/></g>
  <!-- right control panel -->
  <rect x="758" y="1422" width="128" height="100" fill="#8f97a5"/>
  <circle cx="788" cy="1442" r="7" fill="#e4d0c8"/>
  <circle cx="790" cy="1476" r="8" fill="#e8c86c"/>
  <circle cx="790" cy="1496" r="8" fill="#f0c84a"/>
  <rect x="770" y="1430" width="10" height="8" fill="#e6e6e6"/>
  <rect x="820" y="1430" width="14" height="12" fill="#58c058"/>
  <rect x="858" y="1430" width="14" height="12" fill="#58c058"/>
  <rect x="805" y="1460" width="10" height="8" fill="#f0c040"/>
  <rect x="830" y="1455" width="8" height="30" fill="#c8ccd2"/>
  <rect x="860" y="1470" width="16" height="40" fill="#b0b4ba"/>
  <rect x="758" y="1522" width="132" height="28" fill="#d4d7dc"/>
  <circle cx="833" cy="1538" r="9" fill="#111"/>
  <rect x="856" y="1530" width="20" height="16" fill="#222"/>
  <!-- ===== laptop ===== -->
  <path d="M932,1306 L1247,1306 L1199,1460 L925,1460 Z" fill="#141416"/>
  <path d="M937,1314 L1038,1314 L1036,1446 L932,1446 Z" fill="#1e1f22"/>
  <g stroke="#8d8f93" stroke-width="2" opacity="0.7">
    <path d="M945,1340 h80 M945,1352 h80 M945,1364 h80 M945,1376 h78 M944,1388 h78 M944,1400 h78 M944,1412 h78 M944,1424 h78 M943,1436 h78" stroke-dasharray="10 6"/>
  </g>
  <path d="M1038,1315 L1240,1315 L1233,1337 L1036,1337 Z" fill="#f1f1f1"/>
  <path d="M1030,1337 L1232,1337 L1214,1443 L1022,1443 Z" fill="#8b8b8b"/>
  <path d="M1232,1337 L1240,1315 L1207,1445 L1214,1443 Z" fill="#dfe3ea"/>
  <path d="M928,1443 L1215,1443 L1210,1457 L926,1457 Z" fill="#e3e3e3"/>
  <!-- base -->
  <path d="M925,1460 L1199,1460 L1251,1645 L926,1648 Z" fill="#1b1c1f"/>
  <path d="M950,1482 L1195,1482 L1198,1490 L950,1490 Z" fill="#4a6c9c" opacity="0.8"/>
<g opacity="0.55"><rect x="936" y="1512" width="5" height="2.5" fill="#8a8c90"/><rect x="953" y="1512" width="5" height="2.5" fill="#8a8c90"/><rect x="970" y="1512" width="5" height="2.5" fill="#b8babe"/><rect x="987" y="1512" width="5" height="2.5" fill="#77797d"/><rect x="1004" y="1512" width="5" height="2.5" fill="#9a9ca0"/><rect x="1022" y="1512" width="5" height="2.5" fill="#9a9ca0"/><rect x="1039" y="1512" width="5" height="2.5" fill="#77797d"/><rect x="1056" y="1512" width="5" height="2.5" fill="#b8babe"/><rect x="1073" y="1512" width="5" height="2.5" fill="#8a8c90"/><rect x="1090" y="1512" width="5" height="2.5" fill="#8a8c90"/><rect x="1107" y="1512" width="5" height="2.5" fill="#77797d"/><rect x="1124" y="1512" width="5" height="2.5" fill="#77797d"/><rect x="1142" y="1512" width="5" height="2.5" fill="#77797d"/><rect x="1159" y="1512" width="5" height="2.5" fill="#8a8c90"/><rect x="1176" y="1512" width="5" height="2.5" fill="#8a8c90"/><rect x="1193" y="1512" width="5" height="2.5" fill="#8a8c90"/><rect x="1210" y="1512" width="5" height="2.5" fill="#77797d"/><rect x="935" y="1526" width="5" height="2.5" fill="#9a9ca0"/><rect x="952" y="1526" width="5" height="2.5" fill="#9a9ca0"/><rect x="970" y="1526" width="5" height="2.5" fill="#8a8c90"/><rect x="987" y="1526" width="5" height="2.5" fill="#9a9ca0"/><rect x="1004" y="1526" width="5" height="2.5" fill="#b8babe"/><rect x="1022" y="1526" width="5" height="2.5" fill="#9a9ca0"/><rect x="1039" y="1526" width="5" height="2.5" fill="#b8babe"/><rect x="1057" y="1526" width="5" height="2.5" fill="#77797d"/><rect x="1074" y="1526" width="5" height="2.5" fill="#77797d"/><rect x="1091" y="1526" width="5" height="2.5" fill="#77797d"/><rect x="1109" y="1526" width="5" height="2.5" fill="#77797d"/><rect x="1126" y="1526" width="5" height="2.5" fill="#77797d"/><rect x="1144" y="1526" width="5" height="2.5" fill="#8a8c90"/><rect x="1161" y="1526" width="5" height="2.5" fill="#b8babe"/><rect x="1178" y="1526" width="5" height="2.5" fill="#9a9ca0"/><rect x="1196" y="1526" width="5" height="2.5" fill="#9a9ca0"/><rect x="1213" y="1526" width="5" height="2.5" fill="#8a8c90"/><rect x="934" y="1540" width="5" height="2.5" fill="#77797d"/><rect x="952" y="1540" width="5" height="2.5" fill="#8a8c90"/><rect x="969" y="1540" width="5" height="2.5" fill="#b8babe"/><rect x="987" y="1540" width="5" height="2.5" fill="#77797d"/><rect x="1004" y="1540" width="5" height="2.5" fill="#b8babe"/><rect x="1022" y="1540" width="5" height="2.5" fill="#77797d"/><rect x="1040" y="1540" width="5" height="2.5" fill="#77797d"/><rect x="1057" y="1540" width="5" height="2.5" fill="#b8babe"/><rect x="1075" y="1540" width="5" height="2.5" fill="#77797d"/><rect x="1093" y="1540" width="5" height="2.5" fill="#8a8c90"/><rect x="1110" y="1540" width="5" height="2.5" fill="#b8babe"/><rect x="1128" y="1540" width="5" height="2.5" fill="#9a9ca0"/><rect x="1146" y="1540" width="5" height="2.5" fill="#b8babe"/><rect x="1163" y="1540" width="5" height="2.5" fill="#8a8c90"/><rect x="1181" y="1540" width="5" height="2.5" fill="#b8babe"/><rect x="1198" y="1540" width="5" height="2.5" fill="#9a9ca0"/><rect x="1216" y="1540" width="5" height="2.5" fill="#8a8c90"/><rect x="933" y="1554" width="5" height="2.5" fill="#b8babe"/><rect x="951" y="1554" width="5" height="2.5" fill="#b8babe"/><rect x="969" y="1554" width="5" height="2.5" fill="#9a9ca0"/><rect x="987" y="1554" width="5" height="2.5" fill="#9a9ca0"/><rect x="1004" y="1554" width="5" height="2.5" fill="#77797d"/><rect x="1022" y="1554" width="5" height="2.5" fill="#77797d"/><rect x="1040" y="1554" width="5" height="2.5" fill="#9a9ca0"/><rect x="1058" y="1554" width="5" height="2.5" fill="#b8babe"/><rect x="1076" y="1554" width="5" height="2.5" fill="#9a9ca0"/><rect x="1094" y="1554" width="5" height="2.5" fill="#77797d"/><rect x="1112" y="1554" width="5" height="2.5" fill="#8a8c90"/><rect x="1130" y="1554" width="5" height="2.5" fill="#9a9ca0"/><rect x="1148" y="1554" width="5" height="2.5" fill="#b8babe"/><rect x="1165" y="1554" width="5" height="2.5" fill="#77797d"/><rect x="1183" y="1554" width="5" height="2.5" fill="#77797d"/><rect x="1201" y="1554" width="5" height="2.5" fill="#9a9ca0"/><rect x="1219" y="1554" width="5" height="2.5" fill="#9a9ca0"/><rect x="932" y="1568" width="5" height="2.5" fill="#9a9ca0"/><rect x="950" y="1568" width="5" height="2.5" fill="#77797d"/><rect x="968" y="1568" width="5" height="2.5" fill="#b8babe"/><rect x="986" y="1568" width="5" height="2.5" fill="#b8babe"/><rect x="1004" y="1568" width="5" height="2.5" fill="#8a8c90"/><rect x="1023" y="1568" width="5" height="2.5" fill="#9a9ca0"/><rect x="1041" y="1568" width="5" height="2.5" fill="#b8babe"/><rect x="1059" y="1568" width="5" height="2.5" fill="#9a9ca0"/><rect x="1077" y="1568" width="5" height="2.5" fill="#9a9ca0"/><rect x="1095" y="1568" width="5" height="2.5" fill="#9a9ca0"/><rect x="1113" y="1568" width="5" height="2.5" fill="#9a9ca0"/><rect x="1131" y="1568" width="5" height="2.5" fill="#8a8c90"/><rect x="1150" y="1568" width="5" height="2.5" fill="#77797d"/><rect x="1168" y="1568" width="5" height="2.5" fill="#b8babe"/><rect x="1186" y="1568" width="5" height="2.5" fill="#b8babe"/><rect x="1204" y="1568" width="5" height="2.5" fill="#8a8c90"/><rect x="1222" y="1568" width="5" height="2.5" fill="#9a9ca0"/><rect x="932" y="1582" width="5" height="2.5" fill="#b8babe"/><rect x="950" y="1582" width="5" height="2.5" fill="#b8babe"/><rect x="969" y="1582" width="5" height="2.5" fill="#b8babe"/><rect x="987" y="1582" width="5" height="2.5" fill="#8a8c90"/><rect x="1005" y="1582" width="5" height="2.5" fill="#77797d"/><rect x="1024" y="1582" width="5" height="2.5" fill="#77797d"/><rect x="1042" y="1582" width="5" height="2.5" fill="#77797d"/><rect x="1060" y="1582" width="5" height="2.5" fill="#77797d"/><rect x="1078" y="1582" width="5" height="2.5" fill="#9a9ca0"/><rect x="1097" y="1582" width="5" height="2.5" fill="#b8babe"/><rect x="1115" y="1582" width="5" height="2.5" fill="#77797d"/><rect x="1133" y="1582" width="5" height="2.5" fill="#8a8c90"/><rect x="1152" y="1582" width="5" height="2.5" fill="#b8babe"/><rect x="1170" y="1582" width="5" height="2.5" fill="#77797d"/><rect x="1188" y="1582" width="5" height="2.5" fill="#b8babe"/><rect x="1207" y="1582" width="5" height="2.5" fill="#b8babe"/><rect x="1225" y="1582" width="5" height="2.5" fill="#b8babe"/></g>
  <rect x="954" y="1570" width="14" height="10" fill="#c8c8c8"/>
  <rect x="962" y="1556" width="14" height="10" fill="#bcbcbc"/>
  <rect x="972" y="1570" width="14" height="10" fill="#c8c8c8"/>
  <rect x="990" y="1570" width="14" height="10" fill="#c8c8c8"/>
  <rect x="1000" y="1623" width="10" height="10" fill="#d8d8d8"/>
  <!-- ===== amplifier (black) ===== -->
  <path d="M443,1621 L834,1624 L834,1912 L439,1912 Z" fill="#15171d"/>
  <path d="M439,1848 L826,1848 L826,1912 L439,1912 Z" fill="#1c2233"/>
  <rect x="594" y="1880" width="20" height="42" rx="8" fill="#060606"/>
  <rect x="648" y="1880" width="20" height="42" rx="8" fill="#060606"/>
  <rect x="598" y="1893" width="12" height="4" fill="#999"/>
  <rect x="652" y="1893" width="12" height="4" fill="#999"/>
  <rect x="542" y="1894" width="10" height="4" fill="#e0307a"/>
  <!-- gray tray -->
  <path d="M474,1793 L788,1793 L783,1847 L474,1847 Z" fill="#a3a5a8"/>
  <path d="M488,1798 L772,1798 L772,1832 L488,1832 Z" fill="#7a7c80"/>
  <!-- ===== signal generator ===== -->
  <path d="M555,1549 L788,1554 L786,1668 L762,1690 L437,1688 L474,1662 Z" fill="#c9c9c3"/>
  <path d="M437,1662 L485,1660 L487,1690 L437,1690 Z" fill="#8a8a80"/>
  <path d="M718,1662 L770,1662 L770,1690 L712,1690 Z" fill="#8a8a80"/>
  <path d="M437,1686 L762,1690 L758,1798 L452,1798 Z" fill="#e6e2c6"/>
  <rect x="481" y="1709" width="131" height="31" fill="#6f8fe0"/>
  <rect x="486" y="1713" width="121" height="23" fill="#8aa6ec"/>
  <rect x="470" y="1700" width="40" height="6" fill="#8b7a30"/>
  <circle cx="703" cy="1718" r="17" fill="#f2efe0"/>
  <g fill="#7a95a8">
    <circle cx="497" cy="1761" r="6"/><circle cx="518" cy="1761" r="6"/><circle cx="539" cy="1761" r="6"/>
    <circle cx="560" cy="1761" r="6"/><circle cx="581" cy="1761" r="6"/><circle cx="602" cy="1761" r="6"/>
  </g>
  <rect x="465" y="1769" width="20" height="16" fill="#c8ee70"/>
  <rect x="490" y="1769" width="20" height="16" fill="#c8ee70"/>
  <g fill="#c0c0c0"><rect x="515" y="1774" width="96" height="10"/></g>
  <g fill="#d8d8d0"><rect x="630" y="1745" width="40" height="45"/></g>
  <rect x="685" y="1770" width="12" height="18" fill="#c8ee70"/>
  <!-- black cables from equipment -->
  <g fill="none" stroke="#15191c" stroke-linecap="round">
    <path d="M716,1790 C718,1850 705,1900 700,1960 C698,1990 690,2010 676,2025" stroke-width="4"/>
    <path d="M834,1545 C840,1600 852,1650 858,1700 C866,1760 880,1790 905,1795" stroke-width="4"/>
    <ellipse cx="912" cy="1740" rx="52" ry="60" stroke-width="4"/>
    <ellipse cx="918" cy="1745" rx="44" ry="55" stroke-width="3.5"/>
    <path d="M980,1700 C1000,1680 1030,1665 1050,1672" stroke-width="3"/>
  </g>
  <path d="M960,1790 L1048,1676" stroke="#c02828" stroke-width="9" stroke-linecap="round"/>
  <path d="M950,1800 L968,1778" stroke="#222" stroke-width="7" stroke-linecap="round"/>
  <!-- thin cable to the right -->
  <path d="M1230,1625 C1280,1620 1320,1630 1330,1650 C1340,1680 1350,1700 1360,1700 L1290,1700" fill="none" stroke="#9aa8b8" stroke-width="2.5"/>
  <rect x="1218" y="1613" width="26" height="10" fill="#c06080"/>
  <!-- ===== shaker ===== -->
  <path d="M1044,1735 L1090,1726 L1279,1758 L1276,1800 L1256,1878 L1064,1878 Z" fill="#0f1012"/>
  <path d="M1093,1718 L1273,1718 L1270,1815 C1262,1858 1112,1862 1095,1822 Z" fill="url(#cylG)"/>
  <path d="M1100,1800 C1120,1860 1240,1860 1268,1800 L1262,1830 C1230,1870 1130,1870 1105,1830 Z" fill="#6f87ab"/>
  <ellipse cx="1183" cy="1718" rx="90" ry="58" fill="#a9adb1"/>
  <ellipse cx="1195" cy="1716" rx="46" ry="33" fill="#c4c1b6"/>
  <ellipse cx="1195" cy="1716" rx="46" ry="33" fill="none" stroke="#8c8f92" stroke-width="2"/>
  <path d="M1190,1627 L1244,1627 L1244,1676 L1198,1676 Z" fill="#d9c9a6"/>
  <rect x="1200" y="1640" width="14" height="30" fill="#efe6cc"/>
  <rect x="1240" y="1640" width="14" height="10" fill="#e2e068"/>
  <rect x="1193" y="1807" width="28" height="60" fill="#b8bcc0"/>
  <circle cx="1063" cy="1753" r="8" fill="#c8c8c8"/>
  <path d="M1218,1866 C1215,1920 1180,1960 1110,2030" fill="none" stroke="#f2e41e" stroke-width="7" stroke-linecap="round"/>
  </g>
</g>

<!-- chart -->
<rect x="2027.8" y="1230.5" width="902.3" height="726.1" fill="none" stroke="#2c2c2c" stroke-width="3.4"/>
<rect x="2041.0" y="1467.0" width="62.8" height="489.6" fill="#fccd95" stroke="#433424" stroke-width="4.4"/>
<rect x="2131.1" y="1518.3" width="62.8" height="438.3" fill="#fccd95" stroke="#433424" stroke-width="4.4"/>
<rect x="2221.2" y="1547.0" width="62.8" height="409.6" fill="#fccd95" stroke="#433424" stroke-width="4.4"/>
<rect x="2311.3" y="1480.9" width="62.8" height="475.7" fill="#fccd95" stroke="#433424" stroke-width="4.4"/>
<rect x="2401.3" y="1532.4" width="62.8" height="424.2" fill="#fccd95" stroke="#433424" stroke-width="4.4"/>
<rect x="2491.4" y="1540.0" width="62.8" height="416.6" fill="#fccd95" stroke="#433424" stroke-width="4.4"/>
<rect x="2581.5" y="1561.5" width="62.8" height="395.1" fill="#fccd95" stroke="#433424" stroke-width="4.4"/>
<rect x="2671.5" y="1540.0" width="62.8" height="416.6" fill="#fccd95" stroke="#433424" stroke-width="4.4"/>
<rect x="2761.6" y="1524.0" width="62.8" height="432.6" fill="#fccd95" stroke="#433424" stroke-width="4.4"/>
<rect x="2851.7" y="1553.8" width="62.8" height="402.8" fill="#fccd95" stroke="#433424" stroke-width="4.4"/>
<line x1="2027.4" y1="1229" x2="2027.4" y2="1958" stroke="#7a7c86" stroke-width="4.3"/>
<line x1="2025.3" y1="1956.6" x2="2040" y2="1956.6" stroke="#3a3a3a" stroke-width="3.2"/>
<g fill="#111" font-size="61" text-anchor="middle">
<text x="2072.4" y="2022.5">1</text>
<text x="2162.5" y="2022.5">2</text>
<text x="2252.6" y="2022.5">3</text>
<text x="2342.7" y="2022.5">4</text>
<text x="2432.7" y="2022.5">5</text>
<text x="2522.8" y="2022.5">6</text>
<text x="2612.9" y="2022.5">7</text>
<text x="2702.9" y="2022.5">8</text>
<text x="2793.0" y="2022.5">9</text>
<text x="2883.1" y="2022.5">10</text>
<text x="1993.7" y="1975.4">0</text>
<text x="1993.7" y="1793.9">2</text>
<text x="1993.7" y="1612.3">4</text>
<text x="1993.7" y="1430.8">6</text>
<text x="1993.7" y="1249.3">8</text>
<text x="2467.6" y="2078.3" font-size="62.3">Sensors</text>
<text transform="translate(1957,1592.5) rotate(-90)" x="0" y="0" font-size="62">Output(V)</text>
</g>

</svg>
</body></html>
